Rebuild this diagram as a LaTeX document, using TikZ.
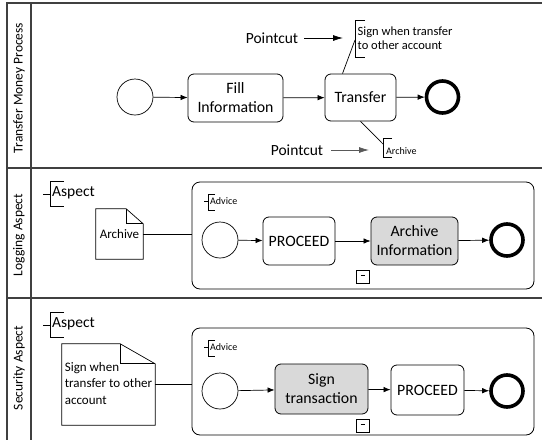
\documentclass[tikz,border=0pt]{standalone}
\usepackage{fontspec}
\setmainfont{Carlito}
\usetikzlibrary{arrows.meta}

\begin{document}
\begin{tikzpicture}[x=1pt,y=-1pt,
  frame/.style={draw=black!75, line width=1.2pt},
  task/.style={draw, rounded corners=6pt, line width=0.8pt, align=center,
    font=\fontsize{15.8}{19}\selectfont, inner sep=0pt},
  grey task/.style={task, fill=black!15},
  startev/.style={circle, draw, line width=0.7pt, minimum size=36pt, inner sep=0pt},
  endev/.style={circle, draw, line width=3.6pt, minimum size=32pt, inner sep=0pt},
  subproc/.style={draw, rounded corners=8pt, line width=0.8pt, inner sep=0pt},
  marker/.style={draw, line width=0.7pt, minimum width=13pt, minimum height=13pt,
    inner sep=0pt},
  flow/.style={-{Latex[length=7pt,width=5.5pt]}, line width=0.7pt},
  pointer/.style={-{Latex[length=10pt,width=6pt]}, line width=0.8pt},
  assoc/.style={line width=0.7pt},
  bigtext/.style={font=\fontsize{15.5}{18}\selectfont, inner sep=0pt},
  notetext/.style={font=\fontsize{12.5}{14}\selectfont, inner sep=0pt, align=left},
  smalltext/.style={font=\fontsize{10}{12}\selectfont, inner sep=0pt},
  doctext/.style={font=\fontsize{13}{16.5}\selectfont},
  lanelabel/.style={rotate=90, font=\fontsize{13.5}{16}\selectfont, inner sep=0pt}
]
\useasboundingbox (0,0) rectangle (542,440);

% ---------- pool frame and lanes ----------
\draw[frame] (542,3) -- (7,3) -- (7,440);
\draw[frame] (31,3) -- (31,440);
\draw[frame] (7,168) -- (542,168);
\draw[frame] (7,298) -- (542,298);

\node[lanelabel] (lane1) at (19,88) {Transfer Money Process};
\node[lanelabel] (lane2) at (19,235) {Logging Aspect};
\node[lanelabel] (lane3) at (19,368) {Security Aspect};

% ---------- main process ----------
\node[startev] (start1) at (135,97) {};
\node[task, minimum width=95pt, minimum height=48pt] (fill) at (235.5,98) {Fill\\Information};
\node[task, minimum width=71pt, minimum height=47pt] (transfer) at (360.5,97.5) {Transfer};
\node[endev] (end1) at (442.5,97) {};

\draw[flow] (start1) -- (fill);
\draw[flow] (fill) -- (transfer);
\draw[flow] (transfer) -- (end1);

% annotation above the transfer task
\node[notetext, anchor=west] (signnote) at (357.5,38.5) {Sign when transfer\\to other account};
\draw[assoc] (365,20) -- (355,20) -- (355,57) -- (365,57);
\coordinate (signjoin) at (355,40);
\draw[assoc] ([xshift=-18pt]transfer.north) -- (signjoin);

% annotation below the transfer task
\node[smalltext, anchor=west] (archnote) at (386,151) {Archive};
\draw[assoc] (392,138) -- (383,138) -- (383,157) -- (392,157);
\coordinate (archjoin) at (383,144);
\draw[assoc] (transfer.south) -- (archjoin);

% pointcut markers
\node[bigtext] (pc1) at (272,38) {Pointcut};
\coordinate (pc1tip) at (343,38);
\draw[pointer] ([xshift=6pt]pc1.east) -- (pc1tip);

\node[bigtext] (pc2) at (297,150) {Pointcut};
\coordinate (pc2tip) at (369,150);
\draw[pointer, draw=black!65, fill=black!65] ([xshift=8pt]pc2.east) -- (pc2tip);

% ---------- logging aspect ----------
\node[bigtext, anchor=west] (asp1) at (52,193) {Aspect};
\draw[assoc] (64,181) -- (50,181) -- (50,206) -- (64,206);
\draw[assoc] (43,194) -- (50,194);

\node[doctext, minimum width=47pt, minimum height=50pt, inner sep=0pt] (doc1) at (119.5,234) {Archive};
\draw[assoc] (doc1.north west) -- ([xshift=-17pt]doc1.north east)
  -- ([yshift=-15pt]doc1.north east) -- (doc1.south east) -- (doc1.south west) -- cycle;
\draw[assoc] ([xshift=-17pt]doc1.north east) |- ([yshift=-15pt]doc1.north east);

\node[subproc, minimum width=342pt, minimum height=107pt] (sp1) at (363,235.5) {};
\draw[assoc] (doc1.east) -- (doc1.east -| sp1.west);

\node[smalltext, anchor=west] (adv1) at (210,201) {Advice};
\draw[assoc] (215,194) -- (208,194) -- (208,210) -- (215,210);
\draw[assoc] (204,201) -- (208,201);

\node[startev] (start2) at (220,240) {};
\node[task, minimum width=72pt, minimum height=48pt] (proceed1) at (299,241) {PROCEED};
\node[grey task, minimum width=87pt, minimum height=48pt] (archinfo) at (414.5,241) {Archive\\Information};
\node[endev] (end2) at (507,240) {};

\draw[flow] (start2) -- (proceed1);
\draw[flow] (proceed1) -- (archinfo);
\draw[flow] (archinfo) -- (end2);

\node[marker] (mk1) at (362.5,277) {\rule[2.5pt]{4pt}{1.4pt}};

% ---------- security aspect ----------
\node[bigtext, anchor=west] (asp2) at (52,324) {Aspect};
\draw[assoc] (64,312) -- (50,312) -- (50,337) -- (64,337);
\draw[assoc] (43,325) -- (50,325);

\node[doctext, inner xsep=1pt, inner ysep=0pt,
  minimum width=93pt, minimum height=81pt] (doc2) at (108.5,384.5)
  {\begin{tabular}{@{}l@{}}Sign when\\transfer to other\\account\end{tabular}};
\draw[assoc] (doc2.north west) -- ([xshift=-35pt]doc2.north east)
  -- ([yshift=-20pt]doc2.north east) -- (doc2.south east) -- (doc2.south west) -- cycle;
\draw[assoc] ([xshift=-35pt]doc2.north east) |- ([yshift=-20pt]doc2.north east);

\node[subproc, minimum width=342pt, minimum height=107pt] (sp2) at (363,381.5) {};
\draw[assoc] (doc2.east) -- (doc2.east -| sp2.west);

\node[smalltext, anchor=west] (adv2) at (210,347) {Advice};
\draw[assoc] (215,340) -- (208,340) -- (208,356) -- (215,356);
\draw[assoc] (204,347) -- (208,347);

\node[startev] (start3) at (220,391) {};
\node[grey task, minimum width=93pt, minimum height=50pt] (signtx) at (321.5,389) {Sign\\transaction};
\node[task, minimum width=73pt, minimum height=50pt] (proceed2) at (427.5,390) {PROCEED};
\node[endev] (end3) at (507,391) {};

\draw[flow] (start3) -- (signtx);
\draw[flow] (signtx) -- (proceed2);
\draw[flow] (proceed2) -- (end3);

\node[marker] (mk2) at (362.5,426) {\rule[2.5pt]{4pt}{1.4pt}};
\end{tikzpicture}
\end{document}
